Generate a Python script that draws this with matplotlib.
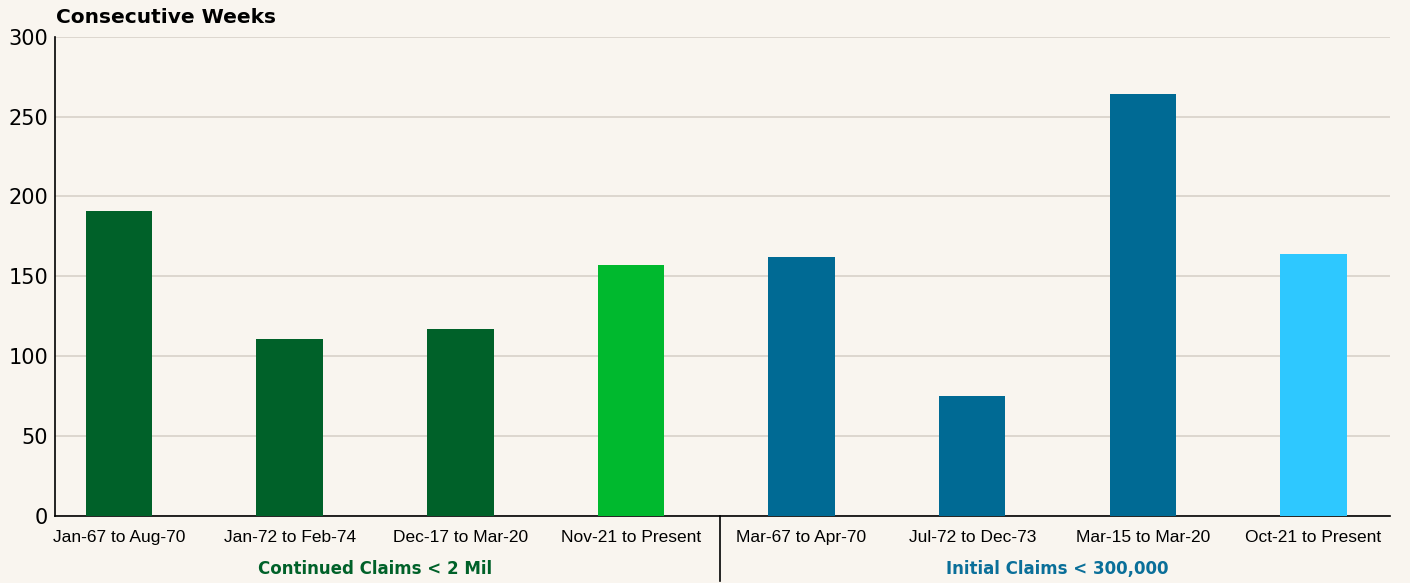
import matplotlib
matplotlib.use("Agg")
import matplotlib.pyplot as plt
import matplotlib.transforms as mtransforms

# data
labels = ["Jan-67 to Aug-70", "Jan-72 to Feb-74", "Dec-17 to Mar-20", "Nov-21 to Present",
          "Mar-67 to Apr-70", "Jul-72 to Dec-73", "Mar-15 to Mar-20", "Oct-21 to Present"]
weeks = [191, 111, 117, 157, 162, 75, 264, 164]
colors = ["#006129", "#006129", "#006129", "#00B92E",
          "#006A94", "#006A94", "#006A94", "#2EC8FF"]
groups = ["Continued Claims < 2 Mil", "Initial Claims < 300,000"]
group_colors = ["#006129", "#0A6F99"]
yticks = [0, 50, 100, 150, 200, 250, 300]

bg = "#F9F5EF"
fig = plt.figure(figsize=(14.1, 5.83), dpi=100, facecolor=bg)
ax = fig.add_axes([0.039, 0.115, 0.947, 0.822], facecolor=bg)

x = list(range(len(labels)))
ax.bar(x, weeks, width=0.39, color=colors, zorder=3)

ax.set_ylim(0, 300)
ax.set_xlim(-0.375, 7.45)
ax.set_yticks(yticks)
ax.grid(axis="y", color="#D8D2C9", linewidth=1.2, zorder=0)
for s in ["top", "right"]:
    ax.spines[s].set_visible(False)
ax.spines["left"].set_linewidth(1.2)
ax.spines["bottom"].set_linewidth(1.2)
ax.tick_params(axis="y", length=0, labelsize=15, pad=5)
ax.tick_params(axis="x", length=0, pad=10)
ax.set_xticks(x)
ax.set_xticklabels(labels, fontsize=12.5, family=["Liberation Sans", "DejaVu Sans"])

ax.text(0.001, 1.04, "Consecutive Weeks", transform=ax.transAxes, fontsize=14.5,
        fontweight="bold", ha="left", va="center")

# group labels and separator
trans = mtransforms.blended_transform_factory(ax.transData, ax.transAxes)
ax.text(1.5, -0.111, groups[0], transform=trans, ha="center", va="center",
        fontsize=12, fontweight="bold", color=group_colors[0])
ax.text(5.5, -0.111, groups[1], transform=trans, ha="center", va="center",
        fontsize=12, fontweight="bold", color=group_colors[1])
ax.plot([3.52, 3.52], [0, -0.135], transform=trans, color="black", lw=1.2, clip_on=False)

fig.savefig("out.png", dpi=100, facecolor=bg)
